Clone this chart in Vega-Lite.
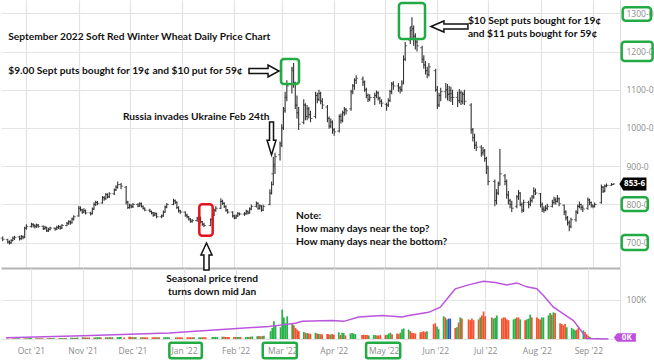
{
"$schema": "https://vega.github.io/schema/vega-lite/v6.json",
"padding": 0,
"background": "white",
"spacing": 0,
"bounds": "flush",
"config": {
 "view": {"stroke": null},
 "axis": {"labelFont": "Open Sans", "labelColor": "#8c8c8c", "labelFontSize": 8.5, "gridColor": "#e3e3e3", "gridWidth": 1.2, "ticks": false, "domainColor": "#dddddd", "labelOverlap": false}
},
"datasets": {
 "px": [
{"d":"2021-09-17","o":712,"h":716,"l":704,"c":709,"v":1.5},
{"d":"2021-09-20","o":708,"h":710,"l":698,"c":702,"v":1.5},
{"d":"2021-09-21","o":702,"h":706,"l":695,"c":699,"v":1.5},
{"d":"2021-09-22","o":700,"h":709,"l":697,"c":705,"v":1.8},
{"d":"2021-09-23","o":706,"h":716,"l":704,"c":712,"v":1.8},
{"d":"2021-09-24","o":712,"h":718,"l":707,"c":714,"v":1.6},
{"d":"2021-09-27","o":715,"h":718,"l":706,"c":710,"v":1.5},
{"d":"2021-09-28","o":711,"h":720,"l":708,"c":716,"v":1.8},
{"d":"2021-09-29","o":716,"h":719,"l":709,"c":713,"v":1.7},
{"d":"2021-09-30","o":714,"h":742,"l":712,"c":738,"v":3.5},
{"d":"2021-10-01","o":738,"h":748,"l":734,"c":742,"v":2.5},
{"d":"2021-10-04","o":742,"h":752,"l":740,"c":748,"v":2.2},
{"d":"2021-10-05","o":748,"h":751,"l":740,"c":745,"v":2.0},
{"d":"2021-10-06","o":745,"h":748,"l":737,"c":742,"v":2.0},
{"d":"2021-10-07","o":742,"h":750,"l":739,"c":746,"v":2.2},
{"d":"2021-10-08","o":746,"h":749,"l":739,"c":743,"v":2.0},
{"d":"2021-10-11","o":743,"h":745,"l":733,"c":737,"v":2.0},
{"d":"2021-10-12","o":737,"h":744,"l":734,"c":740,"v":2.2},
{"d":"2021-10-13","o":740,"h":742,"l":728,"c":731,"v":2.3},
{"d":"2021-10-14","o":731,"h":739,"l":728,"c":735,"v":2.1},
{"d":"2021-10-15","o":735,"h":742,"l":732,"c":738,"v":2.0},
{"d":"2021-10-18","o":738,"h":740,"l":731,"c":736,"v":2.2},
{"d":"2021-10-19","o":736,"h":744,"l":733,"c":740,"v":2.4},
{"d":"2021-10-20","o":740,"h":746,"l":736,"c":742,"v":2.3},
{"d":"2021-10-21","o":742,"h":745,"l":734,"c":738,"v":2.5},
{"d":"2021-10-22","o":738,"h":749,"l":736,"c":745,"v":2.8},
{"d":"2021-10-25","o":745,"h":754,"l":743,"c":750,"v":3.0},
{"d":"2021-10-26","o":750,"h":759,"l":747,"c":755,"v":3.2},
{"d":"2021-10-27","o":755,"h":758,"l":747,"c":752,"v":3.0},
{"d":"2021-10-28","o":752,"h":766,"l":750,"c":762,"v":3.5},
{"d":"2021-10-29","o":762,"h":772,"l":758,"c":768,"v":3.8},
{"d":"2021-11-01","o":770,"h":796,"l":768,"c":790,"v":4.5},
{"d":"2021-11-02","o":790,"h":795,"l":782,"c":786,"v":4.0},
{"d":"2021-11-03","o":786,"h":789,"l":776,"c":780,"v":4.0},
{"d":"2021-11-04","o":780,"h":790,"l":777,"c":784,"v":3.8},
{"d":"2021-11-05","o":784,"h":787,"l":774,"c":778,"v":3.8},
{"d":"2021-11-08","o":778,"h":781,"l":771,"c":776,"v":3.6},
{"d":"2021-11-09","o":776,"h":792,"l":774,"c":788,"v":4.2},
{"d":"2021-11-10","o":788,"h":805,"l":786,"c":800,"v":4.8},
{"d":"2021-11-11","o":800,"h":810,"l":796,"c":805,"v":4.5},
{"d":"2021-11-12","o":805,"h":809,"l":798,"c":803,"v":4.2},
{"d":"2021-11-15","o":804,"h":822,"l":802,"c":818,"v":4.5},
{"d":"2021-11-16","o":818,"h":822,"l":810,"c":815,"v":4.2},
{"d":"2021-11-17","o":815,"h":830,"l":812,"c":826,"v":4.6},
{"d":"2021-11-18","o":826,"h":829,"l":816,"c":820,"v":4.3},
{"d":"2021-11-19","o":820,"h":832,"l":817,"c":828,"v":4.5},
{"d":"2021-11-22","o":828,"h":842,"l":825,"c":838,"v":5.0},
{"d":"2021-11-23","o":838,"h":850,"l":835,"c":845,"v":5.2},
{"d":"2021-11-24","o":845,"h":860,"l":842,"c":852,"v":5.5},
{"d":"2021-11-26","o":852,"h":856,"l":840,"c":848,"v":4.0},
{"d":"2021-11-29","o":845,"h":848,"l":800,"c":806,"v":6.0},
{"d":"2021-11-30","o":806,"h":810,"l":788,"c":792,"v":5.5},
{"d":"2021-12-01","o":792,"h":802,"l":789,"c":798,"v":4.8},
{"d":"2021-12-02","o":798,"h":800,"l":790,"c":794,"v":4.5},
{"d":"2021-12-03","o":794,"h":804,"l":791,"c":800,"v":4.5},
{"d":"2021-12-06","o":800,"h":803,"l":793,"c":796,"v":4.2},
{"d":"2021-12-07","o":796,"h":806,"l":794,"c":802,"v":4.5},
{"d":"2021-12-08","o":802,"h":805,"l":792,"c":795,"v":4.3},
{"d":"2021-12-09","o":795,"h":797,"l":787,"c":790,"v":4.2},
{"d":"2021-12-10","o":790,"h":792,"l":782,"c":785,"v":4.0},
{"d":"2021-12-13","o":785,"h":789,"l":779,"c":782,"v":4.2},
{"d":"2021-12-14","o":782,"h":784,"l":774,"c":778,"v":4.5},
{"d":"2021-12-15","o":778,"h":780,"l":768,"c":772,"v":4.5},
{"d":"2021-12-16","o":772,"h":780,"l":769,"c":776,"v":4.3},
{"d":"2021-12-17","o":776,"h":778,"l":764,"c":768,"v":4.5},
{"d":"2021-12-20","o":768,"h":774,"l":764,"c":770,"v":4.2},
{"d":"2021-12-21","o":770,"h":784,"l":768,"c":780,"v":4.5},
{"d":"2021-12-22","o":780,"h":797,"l":778,"c":793,"v":4.8},
{"d":"2021-12-23","o":793,"h":804,"l":790,"c":800,"v":4.6},
{"d":"2021-12-27","o":800,"h":815,"l":798,"c":810,"v":4.2},
{"d":"2021-12-28","o":810,"h":813,"l":801,"c":806,"v":4.0},
{"d":"2021-12-29","o":806,"h":808,"l":788,"c":792,"v":4.5},
{"d":"2021-12-30","o":792,"h":795,"l":779,"c":783,"v":4.3},
{"d":"2021-12-31","o":783,"h":786,"l":776,"c":780,"v":3.8},
{"d":"2022-01-03","o":780,"h":782,"l":768,"c":772,"v":4.5},
{"d":"2022-01-04","o":772,"h":776,"l":764,"c":768,"v":4.3},
{"d":"2022-01-05","o":768,"h":770,"l":758,"c":762,"v":4.5},
{"d":"2022-01-06","o":762,"h":764,"l":752,"c":756,"v":4.4},
{"d":"2022-01-07","o":756,"h":762,"l":752,"c":758,"v":4.2},
{"d":"2022-01-10","o":758,"h":768,"l":755,"c":763,"v":4.5},
{"d":"2022-01-11","o":763,"h":770,"l":760,"c":766,"v":4.3},
{"d":"2022-01-12","o":766,"h":768,"l":751,"c":755,"v":4.8},
{"d":"2022-01-13","o":755,"h":757,"l":744,"c":748,"v":4.6},
{"d":"2022-01-14","o":748,"h":752,"l":741,"c":745,"v":4.4},
{"d":"2022-01-18","o":745,"h":764,"l":743,"c":760,"v":5.0},
{"d":"2022-01-19","o":760,"h":776,"l":758,"c":772,"v":5.2},
{"d":"2022-01-20","o":772,"h":789,"l":770,"c":785,"v":5.4},
{"d":"2022-01-21","o":785,"h":795,"l":781,"c":790,"v":5.0},
{"d":"2022-01-24","o":790,"h":816,"l":788,"c":808,"v":6.0},
{"d":"2022-01-25","o":808,"h":812,"l":799,"c":803,"v":5.5},
{"d":"2022-01-26","o":803,"h":806,"l":791,"c":795,"v":5.2},
{"d":"2022-01-27","o":795,"h":797,"l":781,"c":785,"v":5.0},
{"d":"2022-01-28","o":785,"h":788,"l":776,"c":780,"v":4.8},
{"d":"2022-01-31","o":780,"h":782,"l":766,"c":770,"v":5.0},
{"d":"2022-02-01","o":770,"h":773,"l":761,"c":765,"v":5.0},
{"d":"2022-02-02","o":765,"h":774,"l":762,"c":770,"v":5.2},
{"d":"2022-02-03","o":770,"h":780,"l":767,"c":776,"v":5.0},
{"d":"2022-02-04","o":776,"h":779,"l":771,"c":775,"v":4.8},
{"d":"2022-02-07","o":775,"h":780,"l":770,"c":776,"v":5.0},
{"d":"2022-02-08","o":776,"h":786,"l":773,"c":782,"v":5.4},
{"d":"2022-02-09","o":782,"h":784,"l":774,"c":778,"v":5.0},
{"d":"2022-02-10","o":778,"h":792,"l":776,"c":788,"v":5.8},
{"d":"2022-02-11","o":788,"h":800,"l":785,"c":795,"v":6.5},
{"d":"2022-02-14","o":795,"h":808,"l":792,"c":803,"v":7.0},
{"d":"2022-02-15","o":803,"h":805,"l":786,"c":790,"v":7.5},
{"d":"2022-02-16","o":790,"h":800,"l":787,"c":796,"v":7.0},
{"d":"2022-02-17","o":796,"h":798,"l":781,"c":785,"v":7.2},
{"d":"2022-02-18","o":785,"h":799,"l":783,"c":795,"v":8.0},
{"d":"2022-02-22","o":800,"h":840,"l":798,"c":830,"v":20},
{"d":"2022-02-23","o":830,"h":860,"l":826,"c":852,"v":28},
{"d":"2022-02-24","o":880,"h":925,"l":850,"c":905,"v":45},
{"d":"2022-02-25","o":900,"h":935,"l":880,"c":925,"v":35},
{"d":"2022-02-28","o":930,"h":965,"l":915,"c":955,"v":30},
{"d":"2022-03-01","o":960,"h":1010,"l":950,"c":1000,"v":75},
{"d":"2022-03-02","o":1000,"h":1055,"l":995,"c":1045,"v":55},
{"d":"2022-03-03","o":1050,"h":1095,"l":1040,"c":1080,"v":40},
{"d":"2022-03-04","o":1080,"h":1125,"l":1070,"c":1110,"v":58},
{"d":"2022-03-07","o":1115,"h":1160,"l":1090,"c":1150,"v":40},
{"d":"2022-03-08","o":1155,"h":1170,"l":1105,"c":1120,"v":35},
{"d":"2022-03-09","o":1115,"h":1120,"l":1050,"c":1060,"v":28},
{"d":"2022-03-10","o":1060,"h":1085,"l":1025,"c":1040,"v":24},
{"d":"2022-03-11","o":1040,"h":1055,"l":995,"c":1010,"v":20},
{"d":"2022-03-14","o":1015,"h":1075,"l":1010,"c":1060,"v":18},
{"d":"2022-03-15","o":1060,"h":1065,"l":1020,"c":1030,"v":16},
{"d":"2022-03-16","o":1030,"h":1060,"l":1020,"c":1050,"v":15},
{"d":"2022-03-17","o":1050,"h":1055,"l":1025,"c":1035,"v":14},
{"d":"2022-03-18","o":1035,"h":1045,"l":1015,"c":1025,"v":13},
{"d":"2022-03-21","o":1030,"h":1095,"l":1025,"c":1085,"v":16},
{"d":"2022-03-22","o":1085,"h":1092,"l":1065,"c":1075,"v":14},
{"d":"2022-03-23","o":1075,"h":1100,"l":1070,"c":1090,"v":13},
{"d":"2022-03-24","o":1090,"h":1095,"l":1062,"c":1070,"v":12},
{"d":"2022-03-25","o":1070,"h":1078,"l":1050,"c":1060,"v":12},
{"d":"2022-03-28","o":1055,"h":1060,"l":1015,"c":1025,"v":13},
{"d":"2022-03-29","o":1025,"h":1030,"l":998,"c":1005,"v":12},
{"d":"2022-03-30","o":1005,"h":1025,"l":1000,"c":1015,"v":11},
{"d":"2022-03-31","o":1015,"h":1020,"l":985,"c":995,"v":13},
{"d":"2022-04-01","o":995,"h":1000,"l":980,"c":990,"v":11},
{"d":"2022-04-04","o":992,"h":1035,"l":988,"c":1030,"v":17},
{"d":"2022-04-05","o":1030,"h":1038,"l":1012,"c":1020,"v":10},
{"d":"2022-04-06","o":1020,"h":1045,"l":1015,"c":1040,"v":16},
{"d":"2022-04-07","o":1040,"h":1055,"l":1032,"c":1048,"v":15},
{"d":"2022-04-08","o":1048,"h":1052,"l":1035,"c":1045,"v":9},
{"d":"2022-04-11","o":1050,"h":1100,"l":1045,"c":1095,"v":14},
{"d":"2022-04-12","o":1095,"h":1115,"l":1088,"c":1110,"v":15},
{"d":"2022-04-13","o":1110,"h":1130,"l":1100,"c":1125,"v":14},
{"d":"2022-04-14","o":1125,"h":1138,"l":1115,"c":1130,"v":12},
{"d":"2022-04-18","o":1128,"h":1135,"l":1110,"c":1120,"v":10},
{"d":"2022-04-19","o":1120,"h":1124,"l":1095,"c":1100,"v":11},
{"d":"2022-04-20","o":1100,"h":1105,"l":1078,"c":1085,"v":10},
{"d":"2022-04-21","o":1085,"h":1090,"l":1068,"c":1075,"v":10},
{"d":"2022-04-22","o":1075,"h":1088,"l":1070,"c":1080,"v":9},
{"d":"2022-04-25","o":1080,"h":1092,"l":1060,"c":1085,"v":10},
{"d":"2022-04-26","o":1085,"h":1098,"l":1078,"c":1092,"v":10},
{"d":"2022-04-27","o":1092,"h":1096,"l":1072,"c":1078,"v":9},
{"d":"2022-04-28","o":1078,"h":1082,"l":1062,"c":1070,"v":9},
{"d":"2022-04-29","o":1070,"h":1075,"l":1055,"c":1065,"v":10},
{"d":"2022-05-02","o":1062,"h":1066,"l":1045,"c":1060,"v":10},
{"d":"2022-05-03","o":1060,"h":1078,"l":1055,"c":1072,"v":11},
{"d":"2022-05-04","o":1072,"h":1100,"l":1068,"c":1095,"v":14},
{"d":"2022-05-05","o":1095,"h":1120,"l":1088,"c":1115,"v":16},
{"d":"2022-05-06","o":1115,"h":1122,"l":1100,"c":1110,"v":12},
{"d":"2022-05-09","o":1110,"h":1118,"l":1095,"c":1105,"v":14},
{"d":"2022-05-10","o":1105,"h":1110,"l":1090,"c":1100,"v":13},
{"d":"2022-05-11","o":1100,"h":1125,"l":1095,"c":1115,"v":16},
{"d":"2022-05-12","o":1120,"h":1190,"l":1115,"c":1180,"v":25},
{"d":"2022-05-13","o":1180,"h":1225,"l":1175,"c":1215,"v":27},
{"d":"2022-05-16","o":1230,"h":1265,"l":1220,"c":1255,"v":24},
{"d":"2022-05-17","o":1265,"h":1290,"l":1235,"c":1260,"v":20},
{"d":"2022-05-18","o":1260,"h":1268,"l":1215,"c":1240,"v":16},
{"d":"2022-05-19","o":1240,"h":1248,"l":1205,"c":1225,"v":15},
{"d":"2022-05-20","o":1225,"h":1235,"l":1200,"c":1215,"v":14},
{"d":"2022-05-23","o":1210,"h":1215,"l":1170,"c":1180,"v":17},
{"d":"2022-05-24","o":1180,"h":1190,"l":1155,"c":1165,"v":18},
{"d":"2022-05-25","o":1165,"h":1175,"l":1140,"c":1150,"v":20},
{"d":"2022-05-26","o":1150,"h":1160,"l":1130,"c":1140,"v":18},
{"d":"2022-05-27","o":1140,"h":1170,"l":1135,"c":1160,"v":20},
{"d":"2022-05-31","o":1150,"h":1155,"l":1095,"c":1100,"v":38},
{"d":"2022-06-01","o":1100,"h":1110,"l":1050,"c":1060,"v":40},
{"d":"2022-06-02","o":1060,"h":1092,"l":1055,"c":1085,"v":32},
{"d":"2022-06-03","o":1085,"h":1105,"l":1070,"c":1095,"v":25},
{"d":"2022-06-06","o":1095,"h":1118,"l":1078,"c":1100,"v":58},
{"d":"2022-06-07","o":1100,"h":1115,"l":1072,"c":1088,"v":55},
{"d":"2022-06-08","o":1088,"h":1110,"l":1070,"c":1098,"v":50},
{"d":"2022-06-09","o":1090,"h":1108,"l":1068,"c":1090,"v":52},
{"d":"2022-06-10","o":1080,"h":1100,"l":1060,"c":1080,"v":52},
{"d":"2022-06-13","o":1080,"h":1095,"l":1055,"c":1072,"v":28},
{"d":"2022-06-14","o":1072,"h":1102,"l":1065,"c":1092,"v":30},
{"d":"2022-06-15","o":1092,"h":1098,"l":1060,"c":1070,"v":42},
{"d":"2022-06-16","o":1070,"h":1095,"l":1062,"c":1088,"v":55},
{"d":"2022-06-17","o":1088,"h":1100,"l":1060,"c":1070,"v":52},
{"d":"2022-06-21","o":1060,"h":1065,"l":985,"c":995,"v":50},
{"d":"2022-06-22","o":995,"h":1000,"l":965,"c":975,"v":48},
{"d":"2022-06-23","o":975,"h":985,"l":945,"c":955,"v":52},
{"d":"2022-06-24","o":955,"h":965,"l":940,"c":950,"v":48},
{"d":"2022-06-27","o":950,"h":955,"l":925,"c":935,"v":50},
{"d":"2022-06-28","o":935,"h":950,"l":928,"c":940,"v":55},
{"d":"2022-06-29","o":940,"h":945,"l":912,"c":920,"v":60},
{"d":"2022-06-30","o":920,"h":925,"l":880,"c":900,"v":70},
{"d":"2022-07-01","o":895,"h":900,"l":850,"c":860,"v":58},
{"d":"2022-07-05","o":860,"h":865,"l":795,"c":810,"v":55},
{"d":"2022-07-06","o":810,"h":840,"l":800,"c":830,"v":52},
{"d":"2022-07-07","o":830,"h":860,"l":825,"c":850,"v":54},
{"d":"2022-07-08","o":855,"h":945,"l":850,"c":880,"v":60},
{"d":"2022-07-11","o":875,"h":880,"l":850,"c":860,"v":52},
{"d":"2022-07-12","o":860,"h":865,"l":815,"c":825,"v":55},
{"d":"2022-07-13","o":825,"h":835,"l":800,"c":810,"v":55},
{"d":"2022-07-14","o":810,"h":815,"l":790,"c":800,"v":50},
{"d":"2022-07-15","o":800,"h":810,"l":780,"c":790,"v":48},
{"d":"2022-07-18","o":795,"h":825,"l":790,"c":820,"v":50},
{"d":"2022-07-19","o":820,"h":838,"l":812,"c":830,"v":52},
{"d":"2022-07-20","o":830,"h":832,"l":795,"c":800,"v":55},
{"d":"2022-07-21","o":800,"h":805,"l":778,"c":785,"v":55},
{"d":"2022-07-22","o":785,"h":812,"l":780,"c":805,"v":50},
{"d":"2022-07-25","o":805,"h":810,"l":790,"c":800,"v":48},
{"d":"2022-07-26","o":800,"h":818,"l":795,"c":810,"v":50},
{"d":"2022-07-27","o":810,"h":825,"l":805,"c":820,"v":52},
{"d":"2022-07-28","o":820,"h":845,"l":815,"c":835,"v":62},
{"d":"2022-07-29","o":835,"h":842,"l":825,"c":830,"v":55},
{"d":"2022-08-01","o":828,"h":830,"l":792,"c":800,"v":55},
{"d":"2022-08-02","o":800,"h":805,"l":780,"c":788,"v":52},
{"d":"2022-08-03","o":788,"h":795,"l":778,"c":785,"v":50},
{"d":"2022-08-04","o":785,"h":798,"l":782,"c":790,"v":55},
{"d":"2022-08-05","o":790,"h":802,"l":785,"c":795,"v":55},
{"d":"2022-08-08","o":795,"h":812,"l":792,"c":805,"v":60},
{"d":"2022-08-09","o":805,"h":820,"l":800,"c":812,"v":66},
{"d":"2022-08-10","o":812,"h":818,"l":800,"c":808,"v":62},
{"d":"2022-08-11","o":808,"h":825,"l":805,"c":815,"v":68},
{"d":"2022-08-12","o":815,"h":818,"l":795,"c":802,"v":66},
{"d":"2022-08-15","o":798,"h":800,"l":772,"c":780,"v":40},
{"d":"2022-08-16","o":780,"h":785,"l":758,"c":765,"v":38},
{"d":"2022-08-17","o":765,"h":770,"l":745,"c":752,"v":35},
{"d":"2022-08-18","o":752,"h":758,"l":730,"c":742,"v":38},
{"d":"2022-08-19","o":742,"h":765,"l":738,"c":760,"v":30},
{"d":"2022-08-22","o":760,"h":785,"l":755,"c":780,"v":28},
{"d":"2022-08-23","o":780,"h":800,"l":775,"c":795,"v":25},
{"d":"2022-08-24","o":795,"h":808,"l":790,"c":800,"v":22},
{"d":"2022-08-25","o":800,"h":802,"l":785,"c":792,"v":24},
{"d":"2022-08-26","o":792,"h":798,"l":780,"c":788,"v":28},
{"d":"2022-08-29","o":790,"h":818,"l":786,"c":812,"v":22},
{"d":"2022-08-30","o":812,"h":815,"l":798,"c":805,"v":18},
{"d":"2022-08-31","o":805,"h":808,"l":792,"c":798,"v":12},
{"d":"2022-09-01","o":798,"h":800,"l":790,"c":795,"v":8},
{"d":"2022-09-02","o":795,"h":805,"l":792,"c":800,"v":5},
{"d":"2022-09-06","o":805,"h":852,"l":802,"c":845,"v":3},
{"d":"2022-09-07","o":845,"h":848,"l":830,"c":835,"v":2},
{"d":"2022-09-08","o":835,"h":852,"l":832,"c":848,"v":2},
{"d":"2022-09-09","o":848,"h":855,"l":845,"c":850,"v":1.5},
{"d":"2022-09-12","o":850,"h":856,"l":849,"c":852,"v":1},
{"d":"2022-09-13","o":852,"h":855,"l":851,"c":853.75,"v":0.5}
 ],
 "oi": [
{"d":"2021-09-16","k":3},{"d":"2021-11-01","k":8},{"d":"2021-12-23","k":15},{"d":"2022-02-21","k":32},
{"d":"2022-03-01","k":36},{"d":"2022-03-09","k":40},{"d":"2022-03-13","k":45},{"d":"2022-03-31","k":47},
{"d":"2022-04-07","k":45},{"d":"2022-04-16","k":56},{"d":"2022-04-30","k":60},{"d":"2022-05-12","k":56},
{"d":"2022-05-16","k":60},{"d":"2022-05-28","k":68},{"d":"2022-06-04","k":81},{"d":"2022-06-09","k":107},
{"d":"2022-06-13","k":128},{"d":"2022-06-21","k":138},{"d":"2022-06-30","k":147},{"d":"2022-07-07","k":144},
{"d":"2022-07-14","k":138},{"d":"2022-07-20","k":143},{"d":"2022-07-26","k":133},{"d":"2022-08-01","k":128},
{"d":"2022-08-05","k":111},{"d":"2022-08-11","k":81},{"d":"2022-08-17","k":64},{"d":"2022-08-23","k":47},
{"d":"2022-08-27","k":25},{"d":"2022-08-31","k":1},{"d":"2022-09-13","k":0}
 ],
 "notes": [
{"d":"2021-09-20T07:00Z","p":1238.8,"t":"September 2022 Soft Red Winter Wheat Daily Price Chart"},
{"d":"2021-09-20T07:00Z","p":1149.1,"t":"$9.00 Sept puts bought for 19¢ and $10 put for 59¢"},
{"d":"2021-11-27T03:00Z","p":1029.5,"t":"Russia invades Ukraine  Feb 24th"},
{"d":"2022-06-19T02:00Z","p":1280.7,"t":"$10 Sept puts bought for 19¢"},
{"d":"2022-06-19T02:00Z","p":1245.9,"t":"and $11 puts bought for 59¢"},
{"d":"2022-03-09T10:00Z","p":770.6,"t":"Note:"},
{"d":"2022-03-09T10:00Z","p":735.8,"t":"How many days near the top?"},
{"d":"2022-03-09T10:00Z","p":700.5,"t":"How many days near the bottom?"}
 ],
 "gbox": [
{"d":"2022-02-28T13:00Z","d2":"2022-03-11T05:00Z","p":1180.5,"p2":1115.1},
{"d":"2022-05-09T07:00Z","d2":"2022-05-24T17:00Z","p":1327,"p2":1232.8},
{"d":"2022-09-18T14:00Z","d2":"2022-10-05T07:00Z","p":1315.7,"p2":1280.7},
{"d":"2022-09-18T00:00Z","d2":"2022-10-06T07:00Z","p":1225.7,"p2":1175.2},
{"d":"2022-09-18T00:00Z","d2":"2022-10-03T10:00Z","p":818.7,"p2":782.9},
{"d":"2022-09-18T00:00Z","d2":"2022-10-03T10:00Z","p":720.1,"p2":680.9}
 ],
 "vbox": [
{"d":"2021-12-23T04:00Z","d2":"2022-01-11T16:00Z","v":-9.4,"v2":-49.2},
{"d":"2022-02-17T07:00Z","d2":"2022-03-09T19:00Z","v":-9.4,"v2":-49.2},
{"d":"2022-04-20T10:00Z","d2":"2022-05-10T22:00Z","v":-9.4,"v2":-49.2}
 ]
},
"vconcat": [
 {
  "width": 619, "height": 268,
  "encoding": {
   "x": {"field": "d", "type": "temporal", "scale": {"type": "utc", "domain": [{"year": 2021, "month": 9, "date": 16, "utc": true}, {"year": 2022, "month": 9, "date": 17, "utc": true}]},
         "axis": {"title": null, "orient": "bottom", "labels": false, "grid": true, "domainColor": "#b3b3b3", "domainWidth": 2, "tickCount": {"interval": "month", "step": 1}}}
  },
  "layer": [
   {"data": {"name": "px"}, "mark": {"type": "rule", "color": "#333333", "strokeWidth": 1.1},
    "encoding": {"y": {"field": "l", "type": "quantitative", "scale": {"domain": [633.8, 1334.8], "nice": false, "zero": false},
       "axis": {"title": null, "orient": "right", "values": [700, 800, 900, 1000, 1100, 1200, 1300], "labelExpr": "datum.value + '-0'", "grid": true, "labelPadding": 6, "domainColor": "#dddddd"}},
     "y2": {"field": "h"}}},
   {"data": {"name": "px"}, "mark": {"type": "tick", "orient": "horizontal", "size": 2, "thickness": 1, "xOffset": -1, "color": "#333333"},
    "encoding": {"y": {"field": "o", "type": "quantitative"}}},
   {"data": {"name": "px"}, "mark": {"type": "tick", "orient": "horizontal", "size": 2, "thickness": 1, "xOffset": 1, "color": "#333333"},
    "encoding": {"y": {"field": "c", "type": "quantitative"}}},
   {"data": {"name": "notes"}, "mark": {"type": "text", "align": "left", "baseline": "middle", "font": "Lato", "fontWeight": "bold", "fontSize": 10.2, "color": "#111111"},
    "encoding": {"y": {"field": "p", "type": "quantitative"}, "text": {"field": "t"}}},
   {"data": {"name": "gbox"}, "mark": {"type": "rect", "filled": false, "stroke": "#22aa44", "strokeWidth": 2.5, "cornerRadius": 3},
    "encoding": {"x2": {"field": "d2"}, "y": {"field": "p", "type": "quantitative"}, "y2": {"field": "p2"}}},
   {"data": {"values": [{"d": "2022-01-11T06:00Z", "d2": "2022-01-19T04:00Z", "p": 800.4, "p2": 718.3}]}, "mark": {"type": "rect", "filled": false, "stroke": "#e3141b", "strokeWidth": 2.5, "cornerRadius": 3},
    "encoding": {"x2": {"field": "d2"}, "y": {"field": "p", "type": "quantitative"}, "y2": {"field": "p2"}}},
   {"data": {"values": [{"d": "2022-02-18T12:00Z", "p": 1149.1}]}, "mark": {"type": "point", "filled": true, "fill": "white", "stroke": "#111111", "strokeWidth": 1.5, "opacity": 1, "size": 900, "shape": "M-1,-0.17L0.27,-0.17L0.27,-0.4L1,0L0.27,0.4L0.27,0.17L-1,0.17Z"},
    "encoding": {"y": {"field": "p", "type": "quantitative"}}},
   {"data": {"values": [{"d": "2022-06-08T04:00Z", "p": 1265.5}]}, "mark": {"type": "point", "filled": true, "fill": "white", "stroke": "#111111", "strokeWidth": 1.5, "opacity": 1, "size": 1369, "shape": "M1,-0.135L-0.3,-0.135L-0.3,-0.3L-1,0L-0.3,0.3L-0.3,0.135L1,0.135Z"},
    "encoding": {"y": {"field": "p", "type": "quantitative"}}},
   {"data": {"values": [{"d": "2022-02-22T23:00Z", "p": 972.5}]}, "mark": {"type": "point", "filled": true, "fill": "white", "stroke": "#111111", "strokeWidth": 1.5, "opacity": 1, "size": 1089, "shape": "M-0.12,-1L0.12,-1L0.12,0.1L0.27,0.1L0,1L-0.27,0.1L-0.12,0.1Z"},
    "encoding": {"y": {"field": "p", "type": "quantitative"}}},
   {"data": {"values": [{"d": "2022-01-15T12:00Z", "p": 663.9}]}, "mark": {"type": "point", "filled": true, "fill": "white", "stroke": "#111111", "strokeWidth": 1.5, "opacity": 1, "size": 729, "shape": "M-0.19,1L0.19,1L0.19,-0.11L0.41,-0.11L0,-1L-0.41,-0.11L-0.19,-0.11Z"},
    "encoding": {"y": {"field": "p", "type": "quantitative"}}},
   {"data": {"values": [{"d": "2022-09-24T16:00Z", "p": 853.75}]}, "mark": {"type": "point", "filled": true, "fill": "#000000", "strokeWidth": 0, "opacity": 1, "size": 729, "shape": "M-1,0L-0.72,-0.48L1,-0.48L1,0.48L-0.72,0.48Z"},
    "encoding": {"y": {"field": "p", "type": "quantitative"}}},
   {"data": {"values": [{"d": "2022-09-25T14:00Z", "p": 853.75, "t": "853-6"}]}, "mark": {"type": "text", "align": "center", "baseline": "middle", "font": "Open Sans", "fontWeight": "bold", "fontSize": 8, "color": "white"},
    "encoding": {"y": {"field": "p", "type": "quantitative"}, "text": {"field": "t"}}}
  ]
 },
 {
  "width": 619, "height": 71,
  "encoding": {
   "x": {"field": "d", "type": "temporal", "scale": {"type": "utc", "domain": [{"year": 2021, "month": 9, "date": 16, "utc": true}, {"year": 2022, "month": 9, "date": 17, "utc": true}]},
         "axis": {"title": null, "orient": "bottom", "format": "%b '%y", "grid": true, "labelPadding": 7, "domainColor": "#e3e3e3", "tickCount": {"interval": "month", "step": 1}}}
  },
  "layer": [
   {"data": {"name": "px"}, "mark": {"type": "bar", "width": 1.7},
    "encoding": {"y": {"field": "v", "type": "quantitative", "scale": {"domain": [0, 181], "nice": false},
       "axis": {"title": null, "orient": "right", "values": [0, 100], "labelExpr": "datum.value == 100 ? '100K' : ''", "grid": true, "labelPadding": 6, "domainColor": "#dddddd"}},
     "color": {"condition": [{"test": "datum.c > datum.o", "value": "#27b248"}, {"test": "datum.c < datum.o", "value": "#f2522e"}], "value": "#2f55c8"}}},
   {"data": {"name": "oi"}, "mark": {"type": "line", "color": "#bb55dd", "strokeWidth": 1.5},
    "encoding": {"y": {"field": "k", "type": "quantitative"}}},
   {"data": {"name": "vbox"}, "mark": {"type": "rect", "filled": false, "stroke": "#22aa44", "strokeWidth": 2.5, "cornerRadius": 2},
    "encoding": {"x2": {"field": "d2"}, "y": {"field": "v", "type": "quantitative"}, "y2": {"field": "v2"}}},
   {"data": {"values": [{"d": "2022-01-17T21:00Z", "v": 152.9, "t": "Seasonal price trend"}, {"d": "2022-01-17T21:00Z", "v": 119.8, "t": "turns down mid Jan"}]},
    "mark": {"type": "text", "align": "center", "baseline": "middle", "font": "Lato", "fontWeight": "bold", "fontSize": 10.2, "color": "#111111"},
    "encoding": {"y": {"field": "v", "type": "quantitative"}, "text": {"field": "t"}}},
   {"data": {"values": [{"d": "2022-09-22T22:00Z", "v": 3.8}]}, "mark": {"type": "point", "filled": true, "fill": "#c04fe0", "strokeWidth": 0, "opacity": 1, "size": 484, "shape": "M-1,0L-0.7,-0.38L1,-0.38L1,0.38L-0.7,0.38Z"},
    "encoding": {"y": {"field": "v", "type": "quantitative"}}},
   {"data": {"values": [{"d": "2022-09-24T02:00Z", "v": 3.8, "t": "0K"}]}, "mark": {"type": "text", "align": "center", "baseline": "middle", "font": "Open Sans", "fontWeight": "bold", "fontSize": 8, "color": "white"},
    "encoding": {"y": {"field": "v", "type": "quantitative"}, "text": {"field": "t"}}}
  ]
 }
]
}
